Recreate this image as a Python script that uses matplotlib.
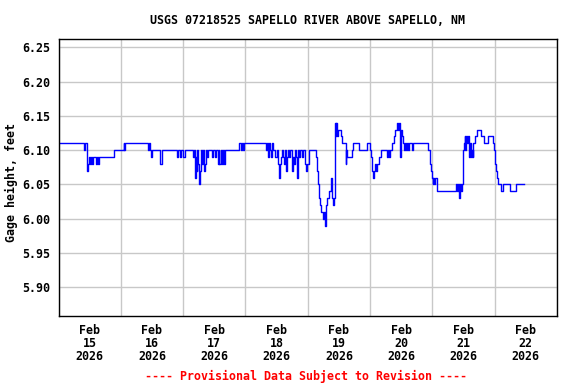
import matplotlib
matplotlib.use("Agg")
import matplotlib.pyplot as plt
import matplotlib.dates as mdates
import pandas as pd
import numpy as np

# gage readings, hours after 2026-02-15 00:00 (step values, ft)
hours = [
    0, 9.8, 10.2, 10.8, 11.0, 11.4, 11.75, 12.1, 12.5, 12.9, 13.2, 14.4, 14.8, 15.2, 15.5, 21.2,
    25.2, 25.4, 25.8, 34.5, 34.9, 35.2, 35.6, 36.0, 39.1, 40.0, 45.6, 46.0, 46.8, 47.2, 48.0, 48.7,
    51.8, 52.2, 52.6, 52.8, 53.2, 53.5, 53.9, 54.2, 54.5, 54.9, 55.3, 55.7, 56.0, 56.4, 56.8, 57.2, 57.6,
    59.1, 59.5, 60.1, 60.7, 61.4, 61.8, 62.0, 62.4, 63.0, 63.4, 63.6, 64.0,
    69.7, 70.1, 70.5, 70.9, 71.3, 79.9, 80.3, 80.7, 81.1, 81.5, 81.9, 82.2, 82.6,
    83.2, 84.0, 84.4, 84.9, 85.2, 85.7, 86.1, 86.5, 86.9, 87.3, 87.6, 88.0, 88.4, 88.8, 89.2,
    89.9, 90.3, 90.7, 91.1, 91.5, 91.9, 92.3, 92.6, 93.0, 93.8, 94.2, 95.0, 95.5, 95.8, 96.3,
    99.2, 99.6, 99.8, 100.2, 100.7, 101.2, 101.7, 102.1, 102.5, 102.7, 102.9, 103.1, 103.4, 104.1, 104.8,
    105.0, 105.3, 105.5, 105.8, 106.1, 106.35, 106.5, 106.8, 107.0, 107.2, 107.8, 108.7, 109.0,
    110.6, 110.8, 111.0, 112.9, 113.4, 115.9, 118.7, 120.0, 120.3, 120.6, 120.9, 121.3, 121.5, 121.9, 122.3, 122.7, 123.3, 124.4,
    126.4, 126.9, 127.3, 127.7, 128.5, 129.2, 129.6, 130.3, 130.6, 131.0, 131.4, 131.7, 131.9, 132.3, 132.7,
    133.1, 133.5, 133.9, 134.3, 134.6, 135.0, 136.0, 136.4, 142.5, 142.9, 143.3, 143.7, 144.1, 144.4, 144.7, 145.0, 145.8,
    153.0, 153.4, 153.7, 154.1, 154.4, 154.7, 155.1, 155.4, 155.8, 156.1, 156.4, 156.7, 157.0, 157.4, 157.8,
    158.2, 158.5, 158.8, 159.1, 159.5, 159.8, 160.5, 161.2, 162.8, 163.9, 165.6, 167.2, 167.8, 168.0, 168.4, 168.7, 169.1,
    170.6, 171.2, 173.9, 176.2, 179.1,
]
gage_ft = [
    6.11, 6.10, 6.11, 6.10, 6.07, 6.08, 6.09, 6.08, 6.09, 6.08, 6.09, 6.08, 6.09, 6.08, 6.09, 6.10,
    6.11, 6.10, 6.11, 6.10, 6.11, 6.10, 6.09, 6.10, 6.08, 6.10, 6.09, 6.10, 6.09, 6.10, 6.09, 6.10,
    6.09, 6.10, 6.06, 6.09, 6.07, 6.10, 6.08, 6.05, 6.07, 6.10, 6.08, 6.10, 6.07, 6.08, 6.10, 6.09, 6.10,
    6.09, 6.10, 6.09, 6.10, 6.08, 6.10, 6.08, 6.10, 6.08, 6.10, 6.08, 6.10,
    6.11, 6.10, 6.11, 6.10, 6.11, 6.10, 6.11, 6.09, 6.11, 6.10, 6.09, 6.11, 6.10,
    6.09, 6.10, 6.08, 6.06, 6.08, 6.09, 6.10, 6.09, 6.08, 6.10, 6.07, 6.09, 6.10, 6.09, 6.10,
    6.07, 6.09, 6.08, 6.10, 6.09, 6.06, 6.10, 6.09, 6.10, 6.09, 6.10, 6.08, 6.07, 6.08, 6.10,
    6.09, 6.07, 6.05, 6.03, 6.02, 6.01, 6.00, 6.01, 6.00, 5.99, 6.01, 6.02, 6.03, 6.04, 6.05,
    6.06, 6.04, 6.03, 6.02, 6.03, 6.10, 6.14, 6.12, 6.14, 6.12, 6.13, 6.12, 6.11,
    6.08, 6.10, 6.09, 6.10, 6.11, 6.10, 6.11, 6.10, 6.09, 6.08, 6.07, 6.06, 6.07, 6.08, 6.07, 6.08, 6.09, 6.10,
    6.09, 6.10, 6.09, 6.10, 6.11, 6.12, 6.13, 6.14, 6.13, 6.14, 6.13, 6.09, 6.13, 6.12, 6.11,
    6.10, 6.11, 6.10, 6.11, 6.10, 6.11, 6.10, 6.11, 6.10, 6.08, 6.07, 6.06, 6.05, 6.06, 6.05, 6.06, 6.04,
    6.05, 6.04, 6.05, 6.04, 6.03, 6.05, 6.04, 6.05, 6.10, 6.11, 6.12, 6.10, 6.12, 6.11, 6.12,
    6.09, 6.11, 6.09, 6.10, 6.09, 6.11, 6.12, 6.13, 6.12, 6.11, 6.12, 6.11, 6.10, 6.08, 6.07, 6.06, 6.05,
    6.04, 6.05, 6.04, 6.05, 6.05,
]
y_ticks = [5.90, 5.95, 6.00, 6.05, 6.10, 6.15, 6.20, 6.25]

start = pd.Timestamp("2026-02-15 00:00")
times = start + pd.to_timedelta(hours, unit="h")

font = "DejaVu Sans Mono"
fig = plt.figure(figsize=(5.76, 3.84), dpi=100)
ax = fig.add_axes([58.5 / 576, 1 - 316 / 384, (557 - 58.5) / 576, (316 - 39.3) / 384])

ax.step(times, gage_ft, where="post", color="#0000ff", lw=1.0)

ax.set_xlim(start, start + pd.Timedelta(days=8))
ax.set_ylim(5.858, 6.2617)

# grid lines at midnight, labels at noon
ax.xaxis.set_major_locator(mdates.DayLocator())
ax.xaxis.set_major_formatter(plt.NullFormatter())
ax.xaxis.set_minor_locator(mdates.HourLocator(byhour=[12]))
ax.xaxis.set_minor_formatter(mdates.DateFormatter("%b\n%d\n%Y"))
ax.set_yticks(y_ticks)
ax.set_yticklabels([f"{v:.2f}" for v in y_ticks])

ax.grid(True, which="major", color="#c8c8c8", lw=1.0)
ax.set_axisbelow(True)
ax.tick_params(which="both", length=0)
ax.tick_params(axis="y", pad=6)
ax.tick_params(axis="x", which="minor", pad=6)
for lab in ax.get_yticklabels() + ax.get_xticklabels(minor=True):
    lab.set_family(font)
    lab.set_fontweight("bold")
    lab.set_fontsize(8.4)
for lab in ax.get_xticklabels(minor=True):
    lab.set_linespacing(1.0)
for s in ax.spines.values():
    s.set_linewidth(1.0)
    s.set_color("black")

fig.text(307 / 576, 1 - 20 / 384, "USGS 07218525 SAPELLO RIVER ABOVE SAPELLO, NM",
         ha="center", va="center", family=font, fontweight="bold", fontsize=8.4)
fig.text(11 / 576, 1 - 183 / 384, "Gage height, feet", rotation=90,
         ha="center", va="center", family=font, fontweight="bold", fontsize=8.4)
fig.text(306 / 576, 1 - 376 / 384, "---- Provisional Data Subject to Revision ----",
         ha="center", va="center", family=font, fontweight="bold", fontsize=8.4, color="red")

fig.savefig("out.png", dpi=100)
